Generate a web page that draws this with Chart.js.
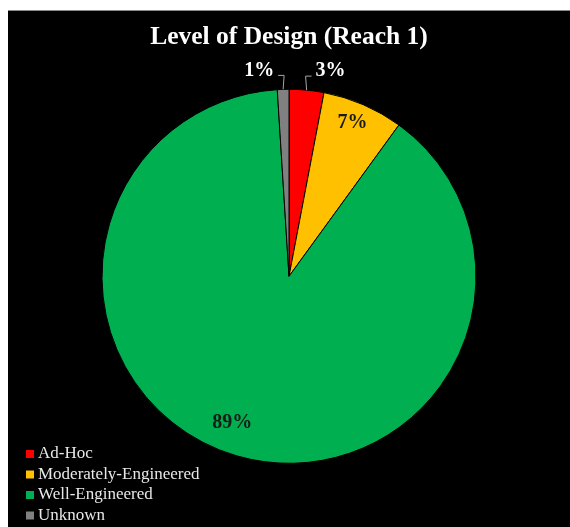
<!DOCTYPE html>
<html>
<head>
<meta charset="utf-8">
<script src="https://cdn.jsdelivr.net/npm/chart.js@4/dist/chart.umd.min.js"></script>
<style>
  html, body { margin: 0; padding: 0; background: #ffffff; }
  #wrap { position: absolute; left: 8px; top: 10px; width: 562px; height: 517px; background: #000000; border-top: 1px solid #8a8a8a; box-sizing: border-box; }
  canvas { display: block; }
</style>
</head>
<body>
<div id="wrap"><canvas id="c" width="562" height="516"></canvas></div>
<script>
// Share of structures by level of design, Reach 1 (percent)
const categories = ['Ad-Hoc', 'Moderately-Engineered', 'Well-Engineered', 'Unknown'];
const shares = [3, 7, 89, 1];
const sliceColors = ['#ff0000', '#ffc000', '#00b050', '#808080'];
const chartTitle = 'Level of Design (Reach 1)';

const SERIF = '"Liberation Serif", "DejaVu Serif", serif';

// How each percentage label is placed on its slice
const labelStyle = [
  { mode: 'outside', color: '#ffffff' },
  { mode: 'inside', r: 0.89, turn: -1, color: '#1a1a1a' },
  { mode: 'inside', r: 0.84, turn: 5, color: '#1a1a1a' },
  { mode: 'outside', color: '#ffffff' }
];

const sliceLabels = {
  id: 'sliceLabels',
  afterDatasetsDraw(chart) {
    const ctx = chart.ctx;
    const meta = chart.getDatasetMeta(0);
    const values = chart.data.datasets[0].data;
    ctx.save();
    ctx.font = 'bold 20px ' + SERIF;
    meta.data.forEach((arc, i) => {
      const st = labelStyle[i];
      const p = arc.getProps(['x', 'y', 'startAngle', 'endAngle', 'outerRadius'], true);
      const text = values[i] + '%';
      let mid = (p.startAngle + p.endAngle) / 2;
      ctx.fillStyle = st.color;
      if (st.mode === 'inside') {
        mid += (st.turn || 0) * Math.PI / 180;
        const r = p.outerRadius * st.r;
        ctx.textAlign = 'center';
        ctx.textBaseline = 'middle';
        ctx.fillText(text, p.x + Math.cos(mid) * r, p.y + Math.sin(mid) * r);
      } else {
        const x0 = p.x + Math.cos(mid) * p.outerRadius;
        const y0 = p.y + Math.sin(mid) * p.outerRadius;
        const dir = Math.cos(mid) >= 0 ? 1 : -1;
        const x1 = x0 - dir * 1;
        const y1 = y0 - 14;
        const x2 = x1 + dir * 6;
        ctx.strokeStyle = '#a6a6a6';
        ctx.lineWidth = 1;
        ctx.beginPath();
        ctx.moveTo(x0, y0);
        ctx.lineTo(x1, y1);
        ctx.lineTo(x2, y1);
        ctx.stroke();
        ctx.textAlign = dir > 0 ? 'left' : 'right';
        ctx.textBaseline = 'middle';
        ctx.fillText(text, x2 + dir * 4, y1 - 5);
      }
    });
    ctx.restore();
  }
};

// Legend stacked in the lower-left corner, over the plot area
const cornerLegend = {
  id: 'cornerLegend',
  afterDraw(chart) {
    const ctx = chart.ctx;
    const ds = chart.data.datasets[0];
    ctx.save();
    ctx.font = '17px ' + SERIF;
    ctx.textBaseline = 'middle';
    ctx.textAlign = 'left';
    const top = 443;
    chart.data.labels.forEach((lab, i) => {
      const y = top + i * 20.5;
      ctx.fillStyle = ds.backgroundColor[i];
      ctx.fillRect(18, y - 4, 8, 8);
      ctx.fillStyle = '#e8e8e8';
      ctx.fillText(lab, 30, y);
    });
    ctx.restore();
  }
};

new Chart(document.getElementById('c'), {
  type: 'pie',
  data: {
    labels: categories,
    datasets: [{
      data: shares,
      backgroundColor: sliceColors,
      borderColor: '#000000',
      borderWidth: 1,
      radius: 187
    }]
  },
  options: {
    responsive: false,
    animation: false,
    devicePixelRatio: 1,
    layout: { padding: { top: 0, bottom: 47, left: 0, right: 0 } },
    plugins: {
      legend: { display: false },
      tooltip: { enabled: false },
      title: {
        display: true,
        text: chartTitle,
        color: '#ffffff',
        font: { family: SERIF, size: 25.5, weight: 'bold' },
        padding: { top: 11, bottom: 20 }
      }
    }
  },
  plugins: [sliceLabels, cornerLegend]
});
</script>
</body>
</html>
